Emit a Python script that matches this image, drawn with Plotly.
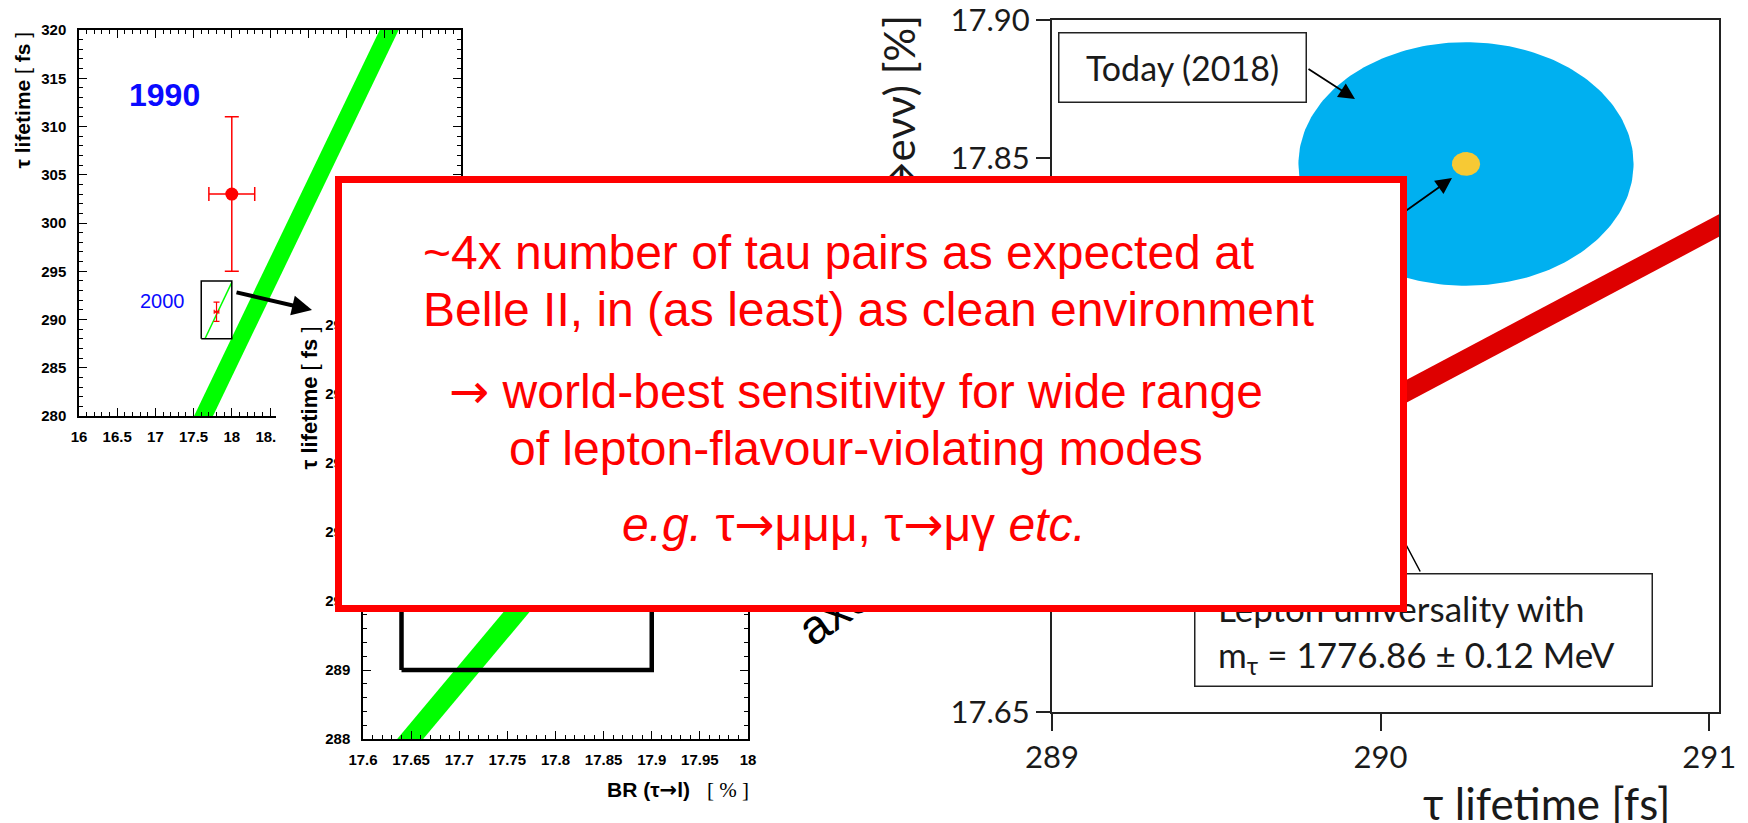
import numpy as np
import plotly.graph_objects as go

W, H = 1748, 823


def px_x(p):
    return p / W


def px_y(p):
    return 1 - p / H


# ---------------- data: 1990 overview panel ----------------
LEFT_X_TICKS = [16, 16.5, 17, 17.5, 18, 18.5, 19, 19.5, 20, 20.5, 21]
LEFT_Y_TICKS = [280, 285, 290, 295, 300, 305, 310, 315, 320]
BAND_1990_TAU = [280, 320]
BAND_1990_BR = [17.63, 20.06]
BAND_1990_HALF = 0.124

M1990_BR, M1990_BR_ERR = 18.0, 0.3
M1990_TAU, M1990_TAU_ERR = 303.0, 8.0
M2000_BR, M2000_BR_ERR = 17.80, 0.03
M2000_TAU, M2000_TAU_ERR = 290.8, 1.0

ZOOM_BR = [17.6, 18.0]
ZOOM_TAU = [288, 294]

# ---------------- data: 2000 zoom panel ----------------
MID_X_TICKS = [17.6, 17.65, 17.7, 17.75, 17.8, 17.85, 17.9, 17.95, 18.0]
MID_Y_TICKS = [288, 289, 290, 291, 292, 293, 294]
BAND_2000_TAU = [288, 294]
BAND_2000_BR = [17.649, 18.009]
BAND_2000_HALF = 0.0135
WINDOW_BR = [17.64, 17.90]
WINDOW_TAU = [289, 291]

# ---------------- data: 2018 panel ----------------
RIGHT_X_TICKS = [289, 290, 291]
RIGHT_Y_TICKS = [17.65, 17.70, 17.75, 17.80, 17.85, 17.90]
TODAY_TAU, TODAY_TAU_ERR = 290.26, 0.51
TODAY_B, TODAY_B_ERR = 17.848, 0.044
BELLE2_TAU_ERR = 0.043
BELLE2_B_ERR = 0.0043
LU_TAU = [289.0, 291.05]
LU_B = [17.698, 17.827]

SANS = "Liberation Sans, Arial, sans-serif"
SERIF = "Liberation Serif, Times New Roman, serif"
CAL = "Lato, Open Sans, sans-serif"
GREEN = "#00ff00"
RED = "#ff0000"
BLUE = "#0a0aff"
ARROW = '<span style="font-family:DejaVu Sans">→</span>'

fig = go.Figure()

# ---- left panel traces (x / y) ----
fig.add_trace(go.Scatter(
    x=[BAND_1990_BR[0] - BAND_1990_HALF, BAND_1990_BR[1] - BAND_1990_HALF,
       BAND_1990_BR[1] + BAND_1990_HALF, BAND_1990_BR[0] + BAND_1990_HALF],
    y=[BAND_1990_TAU[0], BAND_1990_TAU[1], BAND_1990_TAU[1], BAND_1990_TAU[0]],
    fill="toself", fillcolor=GREEN, mode="lines", line=dict(width=0),
    xaxis="x", yaxis="y", hoverinfo="skip"))

tau_edge = float(np.interp(ZOOM_BR[1], BAND_2000_BR, BAND_2000_TAU))
fig.add_trace(go.Scatter(
    x=[BAND_2000_BR[0], ZOOM_BR[1]], y=[BAND_2000_TAU[0], tau_edge],
    mode="lines", line=dict(color=GREEN, width=1.5),
    xaxis="x", yaxis="y", hoverinfo="skip"))

fig.add_trace(go.Scatter(
    x=[ZOOM_BR[0], ZOOM_BR[1], ZOOM_BR[1], ZOOM_BR[0], ZOOM_BR[0]],
    y=[ZOOM_TAU[0], ZOOM_TAU[0], ZOOM_TAU[1], ZOOM_TAU[1], ZOOM_TAU[0]],
    mode="lines", line=dict(color="black", width=1.5),
    xaxis="x", yaxis="y", hoverinfo="skip"))

fig.add_trace(go.Scatter(
    x=[M1990_BR], y=[M1990_TAU], mode="markers",
    marker=dict(color=RED, size=13),
    error_x=dict(type="constant", value=M1990_BR_ERR, color=RED, thickness=1.5, width=7),
    error_y=dict(type="constant", value=M1990_TAU_ERR, color=RED, thickness=1.5, width=7),
    xaxis="x", yaxis="y", hoverinfo="skip"))

fig.add_trace(go.Scatter(
    x=[M2000_BR], y=[M2000_TAU], mode="markers",
    marker=dict(color=RED, size=3),
    error_x=dict(type="constant", value=M2000_BR_ERR, color=RED, thickness=1.2, width=2),
    error_y=dict(type="constant", value=M2000_TAU_ERR, color=RED, thickness=1.2, width=3),
    xaxis="x", yaxis="y", hoverinfo="skip"))

# ---- white backing for the zoom panel (x2 / y2) ----
fig.add_trace(go.Scatter(x=[0.5], y=[0.5], mode="markers",
                         marker=dict(opacity=0), xaxis="x2", yaxis="y2",
                         hoverinfo="skip"))

# ---- zoom panel traces (x3 / y3) ----
fig.add_trace(go.Scatter(
    x=[BAND_2000_BR[0] - BAND_2000_HALF, BAND_2000_BR[1] - BAND_2000_HALF,
       BAND_2000_BR[1] + BAND_2000_HALF, BAND_2000_BR[0] + BAND_2000_HALF],
    y=[BAND_2000_TAU[0], BAND_2000_TAU[1], BAND_2000_TAU[1], BAND_2000_TAU[0]],
    fill="toself", fillcolor=GREEN, mode="lines", line=dict(width=0),
    xaxis="x3", yaxis="y3", hoverinfo="skip"))

fig.add_trace(go.Scatter(
    x=[WINDOW_BR[0], WINDOW_BR[1], WINDOW_BR[1], WINDOW_BR[0], WINDOW_BR[0]],
    y=[WINDOW_TAU[0], WINDOW_TAU[0], WINDOW_TAU[1], WINDOW_TAU[1], WINDOW_TAU[0]],
    mode="lines", line=dict(color="black", width=4.5),
    xaxis="x3", yaxis="y3", hoverinfo="skip"))

# ---- 2018 panel traces (x4 / y4) ----
theta = np.linspace(0, 2 * np.pi, 241)
fig.add_trace(go.Scatter(
    x=TODAY_TAU + TODAY_TAU_ERR * np.cos(theta),
    y=TODAY_B + TODAY_B_ERR * np.sin(theta),
    fill="toself", fillcolor="#00b0f0", mode="lines", line=dict(width=0),
    xaxis="x4", yaxis="y4", hoverinfo="skip"))
fig.add_trace(go.Scatter(
    x=TODAY_TAU + BELLE2_TAU_ERR * np.cos(theta),
    y=TODAY_B + BELLE2_B_ERR * np.sin(theta),
    fill="toself", fillcolor="#f7c934", mode="lines", line=dict(width=0),
    xaxis="x4", yaxis="y4", hoverinfo="skip"))
fig.add_trace(go.Scatter(
    x=LU_TAU, y=LU_B, mode="lines", line=dict(color="#de0000", width=20),
    xaxis="x4", yaxis="y4", hoverinfo="skip"))

# ---------------- axes ----------------
root_tickfont = dict(family=SANS, size=15, color="black", weight="bold")


def root_axis(domain, rng, tickvals, minor_dtick, anchor, standoff):
    return dict(
        domain=domain, range=rng, anchor=anchor,
        tickmode="array", tickvals=tickvals,
        ticktext=[f"{v:g}" for v in tickvals],
        ticks="inside", ticklen=8, tickwidth=1.3, tickcolor="black",
        minor=dict(dtick=minor_dtick, tick0=tickvals[0], ticks="inside",
                   ticklen=4, tickwidth=1.3, tickcolor="black"),
        showline=True, linewidth=1.5, linecolor="black", mirror="ticks",
        showgrid=False, zeroline=False, tickfont=root_tickfont,
        ticklabelstandoff=standoff, ticklabeloverflow="allow",
    )


hidden = dict(showline=False, showticklabels=False, showgrid=False,
              zeroline=False, ticks="", range=[0, 1])

cal_tickfont = dict(family=CAL, size=31, color="#1a1a1a")

fig.update_layout(
    width=W, height=H, autosize=False,
    margin=dict(l=0, r=0, t=0, b=0),
    template="none",
    paper_bgcolor="white", plot_bgcolor="white",
    showlegend=False,
    xaxis=root_axis([px_x(79), px_x(461)], [16, 21], LEFT_X_TICKS, 0.1, "y", 6),
    yaxis=root_axis([px_y(416), px_y(30)], [280, 320], LEFT_Y_TICKS, 1, "x", 8),
    xaxis2=dict(domain=[px_x(276), px_x(760)], anchor="y2", **hidden),
    yaxis2=dict(domain=[0, px_y(300)], anchor="x2", **hidden),
    xaxis3=root_axis([px_x(363), px_x(748)], [17.6, 18.0], MID_X_TICKS, 0.01, "y3", 6),
    yaxis3=root_axis([px_y(739), px_y(325)], [288, 294], MID_Y_TICKS, 0.2, "x3", 8),
    xaxis4=dict(domain=[px_x(1052), px_x(1719)], range=[289, 291.03], anchor="y4",
                tickmode="array", tickvals=RIGHT_X_TICKS,
                ticks="outside", ticklen=17, tickwidth=2, tickcolor="#222",
                showline=True, linewidth=2, linecolor="#222", mirror=True,
                showgrid=False, zeroline=False, tickfont=cal_tickfont,
                ticklabeloverflow="allow"),
    yaxis4=dict(domain=[px_y(712), px_y(20)], range=[17.65, 17.90], anchor="x4",
                tickmode="array", tickvals=RIGHT_Y_TICKS, tickformat=".2f",
                ticks="outside", ticklen=14, tickwidth=2, tickcolor="#222",
                showline=True, linewidth=2, linecolor="#222", mirror=True,
                showgrid=False, zeroline=False, tickfont=cal_tickfont,
                ticklabeloverflow="allow"),
)

# ---------------- annotations ----------------
ann = []


def add(**kw):
    base = dict(xref="paper", yref="paper", showarrow=False)
    base.update(kw)
    ann.append(base)


# left panel labels
add(x=px_x(22), y=px_y(30), xanchor="center", yanchor="top", textangle=-90,
    text="<b>τ lifetime</b> [ <b>fs</b> ]", font=dict(family=SANS, size=21, color="black"))
add(x=px_x(164), y=px_y(95), xanchor="center", yanchor="middle",
    text="<b>1990</b>", font=dict(family=SANS, size=32, color=BLUE))
add(x=px_x(162), y=px_y(301), xanchor="center", yanchor="middle",
    text="2000", font=dict(family=SANS, size=20, color=BLUE))
add(x=px_x(312), y=px_y(310), ax=-77, ay=-18, showarrow=True, text="",
    arrowhead=2, arrowsize=1, arrowwidth=4, arrowcolor="black")

# zoom panel labels
add(x=px_x(309), y=px_y(325), xanchor="center", yanchor="top", textangle=-90,
    text="<b>τ lifetime</b> [ <b>fs</b> ]", font=dict(family=SANS, size=22, color="black"))
add(x=px_x(692), y=px_y(790), xanchor="right", yanchor="middle",
    text="<b>BR (τ" + ARROW + "l)</b>", font=dict(family=SANS, size=21, color="black"))
add(x=px_x(705), y=px_y(790), xanchor="left", yanchor="middle",
    text="[ % ]", font=dict(family=SERIF, size=21, color="black"))
add(x=px_x(844), y=px_y(605), xanchor="center", yanchor="middle", textangle=-35,
    text="axes", font=dict(family=SANS, size=48, color="black"))

# 2018 panel labels
add(x=px_x(898), y=px_y(12), xanchor="center", yanchor="top", textangle=-90,
    text="B(τ→eνν) [%]", font=dict(family=CAL, size=42, color="#1a1a1a"))
add(x=px_x(1672), y=px_y(803), xanchor="right", yanchor="middle",
    text="τ lifetime [fs]", font=dict(family=CAL, size=44, color="#1a1a1a"))
add(x=px_x(1058), y=px_y(32), xanchor="left", yanchor="top",
    text="Today (2018)", width=246, height=68, borderpad=0,
    bgcolor="white", bordercolor="#222", borderwidth=1.5,
    font=dict(family=CAL, size=34, color="#1a1a1a"))
add(x=px_x(1355), y=px_y(99), ax=-48, ay=-31, showarrow=True, text="",
    arrowhead=2, arrowsize=1.8, arrowwidth=1.8, arrowcolor="black")
add(x=px_x(1452), y=px_y(178), ax=-135, ay=96, showarrow=True, text="",
    arrowhead=2, arrowsize=1.8, arrowwidth=1.8, arrowcolor="black")
add(x=px_x(1340), y=px_y(420), ax=81, ay=153, showarrow=True, text="",
    arrowhead=0, arrowwidth=1.5, arrowcolor="black")
add(x=px_x(1194), y=px_y(573), xanchor="left", yanchor="top",
    text=" ", width=456, height=111, borderpad=0,
    bgcolor="white", bordercolor="#222", borderwidth=1.5)
add(x=px_x(1216), y=px_y(633), xanchor="left", yanchor="middle", align="left",
    text="Lepton universality with<br>m<sub>τ</sub> = 1776.86 ± 0.12 MeV",
    font=dict(family=CAL, size=35, color="#1a1a1a"))

# red message box on top
add(x=px_x(335), y=px_y(176), xanchor="left", yanchor="top",
    text=" ", width=1058, height=422, borderpad=0,
    bgcolor="white", bordercolor=RED, borderwidth=7)

red_font = dict(family=SANS, size=48, color=RED)
add(x=px_x(421), y=px_y(252), xanchor="left", yanchor="middle",
    text="~4x number of tau pairs as expected at", font=red_font)
add(x=px_x(421), y=px_y(309), xanchor="left", yanchor="middle",
    text="Belle II, in (as least) as clean environment", font=red_font)
add(x=px_x(856), y=px_y(391), xanchor="center", yanchor="middle",
    text=ARROW + " world-best sensitivity for wide range", font=red_font)
add(x=px_x(856), y=px_y(448), xanchor="center", yanchor="middle",
    text="of lepton-flavour-violating modes", font=red_font)
add(x=px_x(854), y=px_y(524), xanchor="center", yanchor="middle",
    text="<i>e.g.</i> τ" + ARROW + "μμμ, τ" + ARROW + "μγ <i>etc.</i>", font=red_font)

fig.update_layout(annotations=ann)

fig.write_html("out.html", config={"displayModeBar": False})
